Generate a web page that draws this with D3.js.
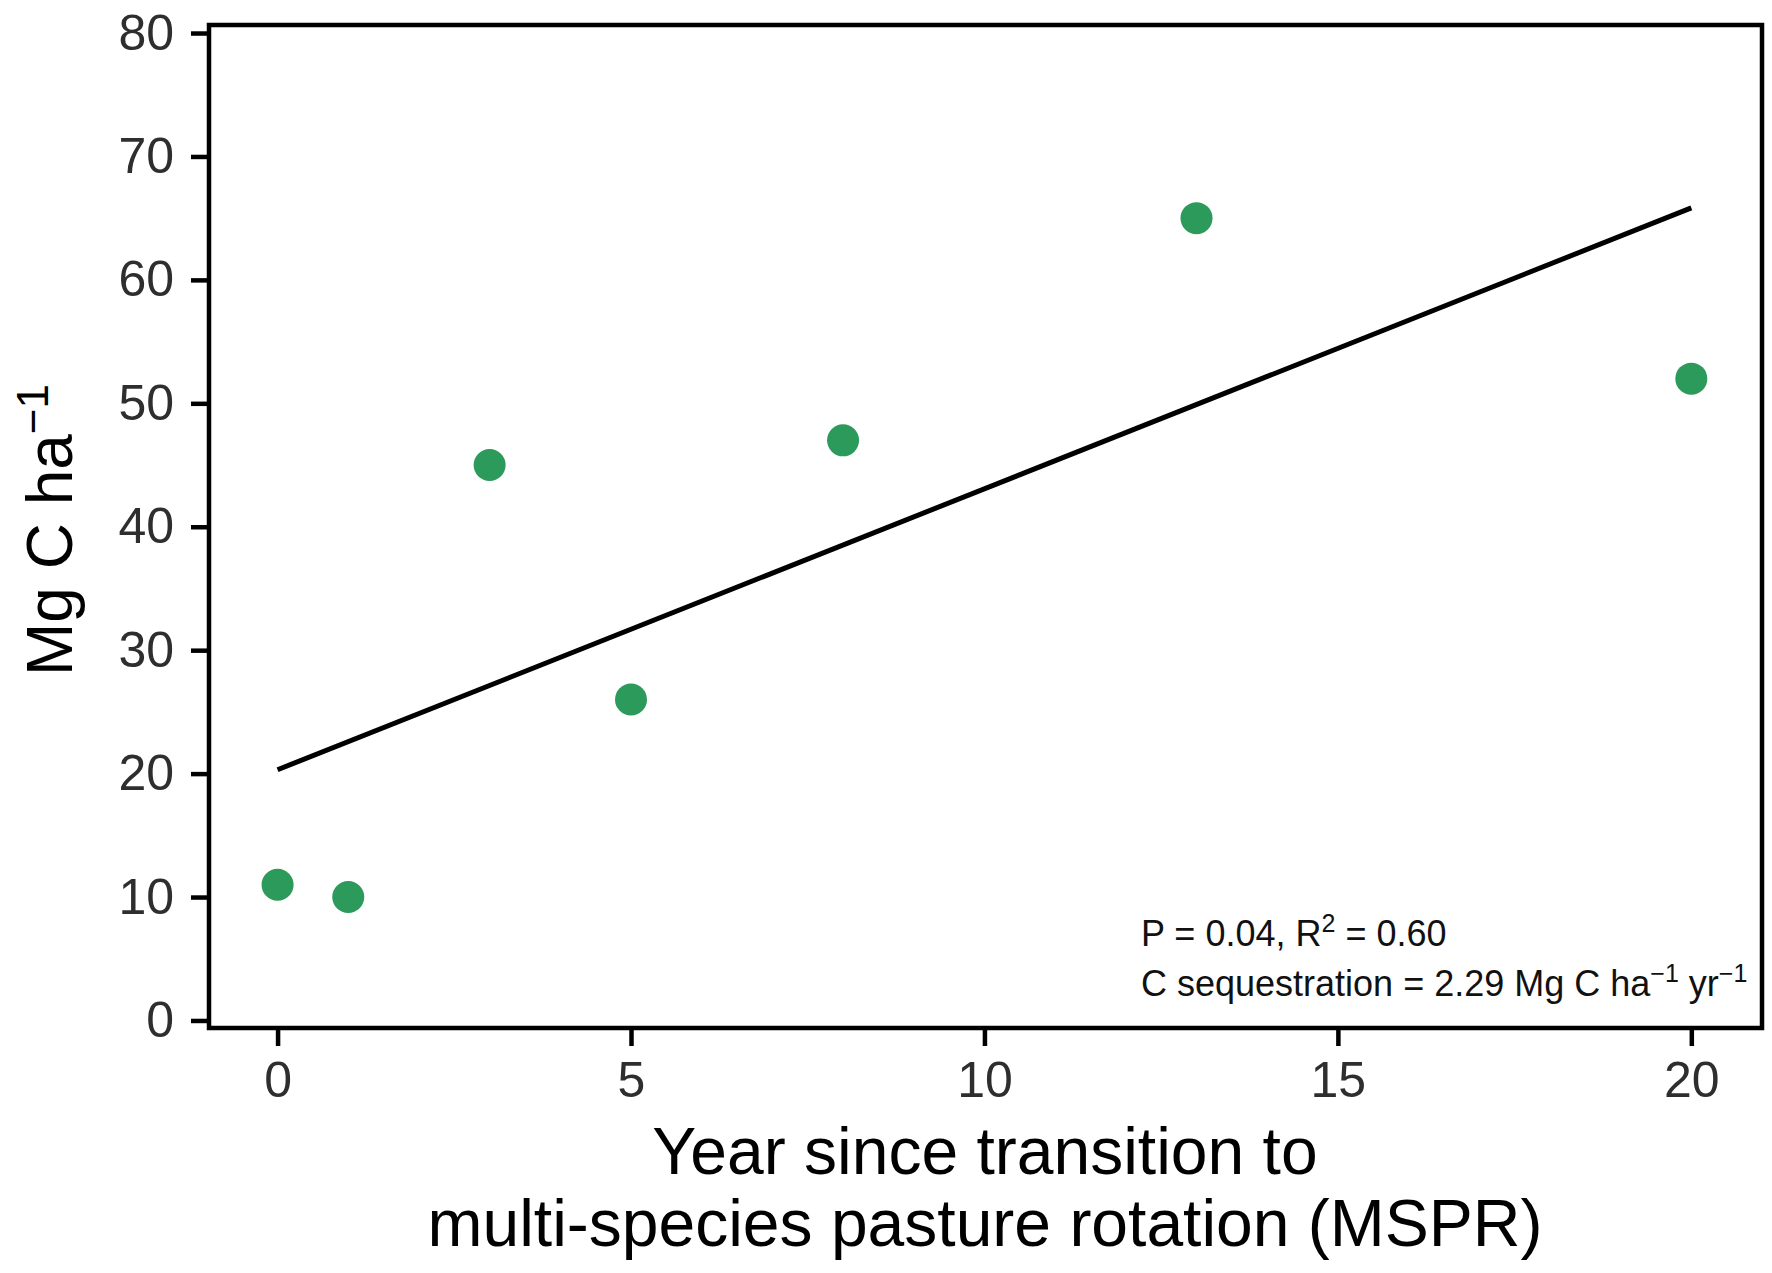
<!DOCTYPE html>
<html>
<head>
<meta charset="utf-8">
<script src="https://cdn.jsdelivr.net/npm/d3@7"></script>
<style>
  html, body { margin: 0; padding: 0; background: #fff; }
  svg { display: block; font-family: "Liberation Sans", Arial, Helvetica, sans-serif; }
</style>
</head>
<body>
<div id="app"></div>
<script>
// data
const years = [0, 1, 3, 5, 8, 13, 20];
const carbon = [11, 10, 45, 26, 47, 65, 52];
const xTicks = [0, 5, 10, 15, 20];
const yTicks = [0, 10, 20, 30, 40, 50, 60, 70, 80];
const statLines = [
  [["P = 0.04, R", 0], ["2", 1], [" = 0.60", 0]],
  [["C sequestration = 2.29 Mg C ha", 0], ["\u22121", 1], [" yr", 0], ["\u22121", 1]]
];

const width = 1772;
const height = 1273;
const margin = { top: 25, right: 10, bottom: 245, left: 209 };
const green = "#2b9a5b";

const svg = d3.select("#app")
  .append("svg")
  .attr("width", width)
  .attr("height", height)
  .attr("viewBox", `0 0 ${width} ${height}`);

const x = d3.scaleLinear()
  .domain([-0.97, 21])
  .range([margin.left, width - margin.right]);

const y = d3.scaleLinear()
  .domain([-0.61, 80.65])
  .range([height - margin.bottom, margin.top]);

const points = years.map((d, i) => ({ x: d, y: carbon[i] }));

// least squares fit
const mx = d3.mean(points, d => d.x);
const my = d3.mean(points, d => d.y);
const slope = d3.sum(points, d => (d.x - mx) * (d.y - my)) / d3.sum(points, d => (d.x - mx) ** 2);
const intercept = my - slope * mx;
const fit = d3.extent(years).map(v => ({ x: v, y: intercept + slope * v }));

// axes
const axisX = d3.axisBottom(x).tickValues(xTicks).tickSize(18).tickPadding(15);
const axisY = d3.axisLeft(y).tickValues(yTicks).tickSize(18).tickPadding(17);

const gx = svg.append("g")
  .attr("transform", `translate(0, ${height - margin.bottom})`)
  .call(axisX);
const gy = svg.append("g")
  .attr("transform", `translate(${margin.left}, 0)`)
  .call(axisY);

[gx, gy].forEach(g => {
  g.select(".domain").remove();
  g.selectAll(".tick line").attr("stroke", "#000").attr("stroke-width", 4.5);
  g.selectAll(".tick text")
    .attr("fill", "#2e2e2e")
    .style("font-size", "50px")
    .style("font-family", "'Liberation Sans', Arial, sans-serif");
});

// panel border
svg.append("rect")
  .attr("x", margin.left)
  .attr("y", margin.top)
  .attr("width", width - margin.left - margin.right)
  .attr("height", height - margin.top - margin.bottom)
  .attr("fill", "none")
  .attr("stroke", "#000")
  .attr("stroke-width", 4.5);

// regression line
const line = d3.line().x(d => x(d.x)).y(d => y(d.y));
svg.append("path")
  .datum(fit)
  .attr("d", line)
  .attr("fill", "none")
  .attr("stroke", "#000")
  .attr("stroke-width", 5);

// points
svg.append("g")
  .selectAll("circle")
  .data(points)
  .join("circle")
  .attr("cx", d => x(d.x))
  .attr("cy", d => y(d.y))
  .attr("r", 16)
  .attr("fill", green);

// stats annotation
const note = svg.append("text")
  .attr("x", 1141)
  .attr("y", 946)
  .attr("fill", "#111")
  .style("font-size", "36px");

statLines.forEach((parts, li) => {
  parts.forEach(([txt, sup], pi) => {
    const t = note.append("tspan").text(txt);
    if (pi === 0) t.attr("x", 1141).attr("dy", li === 0 ? 0 : 50);
    if (sup) t.style("font-size", "25px").attr("baseline-shift", "55%");
  });
});

// x title
const xTitle = svg.append("text")
  .attr("text-anchor", "middle")
  .attr("fill", "#000")
  .style("font-size", "66px");
xTitle.append("tspan").attr("x", 985).attr("y", 1174).text("Year since transition to");
xTitle.append("tspan").attr("x", 985).attr("y", 1246).text("multi-species pasture rotation (MSPR)");

// y title
const yTitle = svg.append("text")
  .attr("transform", "translate(72, 530) rotate(-90)")
  .attr("text-anchor", "middle")
  .attr("fill", "#000")
  .style("font-size", "64px");
yTitle.append("tspan").text("Mg C ha");
yTitle.append("tspan").attr("baseline-shift", "55%").style("font-size", "44px").text("\u22121");
</script>
</body>
</html>
